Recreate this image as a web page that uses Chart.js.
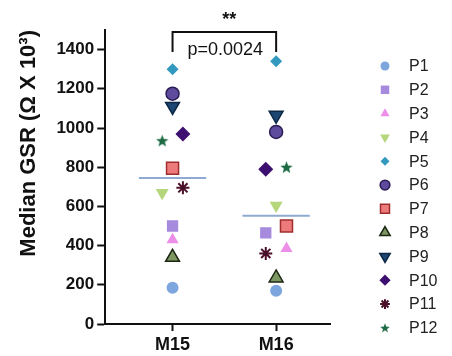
<!DOCTYPE html>
<html>
<head>
<meta charset="utf-8">
<script src="https://cdn.jsdelivr.net/npm/chart.js"></script>
<style>
  html, body { margin: 0; padding: 0; background: #fff; }
  #wrap { width: 452px; height: 356px; }
</style>
</head>
<body>
<div id="wrap"><canvas id="gsrChart" width="452" height="356"></canvas></div>
<script>
// Median GSR per participant for the two conditions
const groups = ["M15", "M16"];
const participants = ["P1", "P2", "P3", "P4", "P5", "P6", "P7", "P8", "P9", "P10", "P11", "P12"];
const m15 = [185, 500, 430, 670, 1300, 1175, 795, 340, 1110, 970, 695, 935];
const m16 = [170, 465, 385, 605, 1340, 980, 500, 235, 1065, 790, 360, 800];
// small horizontal spread so overlapping symbols stay visible
const m15Shift = [0, 0, 0, -0.1, 0, 0, 0, 0, 0, 0.1, 0.1, -0.1];
const m16Shift = [0, -0.1, 0.1, 0, 0, 0, 0.1, 0, 0, -0.1, -0.1, 0.1];
const yTicks = [0, 200, 400, 600, 800, 1000, 1200, 1400];
const pValue = "p=0.0024";
const stars = "**";

// filled five-point star (not a built-in point style)
function makeStar(size, color) {
  const c = document.createElement("canvas");
  c.width = size; c.height = size;
  const g = c.getContext("2d");
  const cx = size / 2, cy = size / 2 + 0.5, R = size / 2, r = R * 0.42;
  g.beginPath();
  for (let i = 0; i < 10; i++) {
    const a = -Math.PI / 2 + i * Math.PI / 5;
    const rr = i % 2 ? r : R;
    g.lineTo(cx + rr * Math.cos(a), cy + rr * Math.sin(a));
  }
  g.closePath();
  g.fillStyle = color;
  g.fill();
  return c;
}

const styles = [
  { shape: "circle", fill: "#7ea6de", edge: null, r: 6 },
  { shape: "rect", fill: "#a68ade", edge: null, r: 8 },
  { shape: "triangle", fill: "#eb8fe8", edge: null, r: 7 },
  { shape: "triangle", rot: 180, fill: "#b5d67a", edge: null, r: 7.5 },
  { shape: "rectRot", fill: "#3399bf", edge: null, r: 6 },
  { shape: "circle", fill: "#5e4b9e", edge: "#2a1d55", r: 6.5 },
  { shape: "rect", fill: "#ee7b7b", edge: "#9e2e2e", r: 8.5 },
  { shape: "triangle", fill: "#7c9762", edge: "#1c2612", r: 8 },
  { shape: "triangle", rot: 180, fill: "#1d4673", edge: "#0d2745", r: 8 },
  { shape: "rectRot", fill: "#3d0f70", edge: null, r: 7.5 },
  { shape: "star", fill: "#4a1029", edge: "#4a1029", r: 6.5 },
  { shape: makeStar(13, "#1d6a45"), fill: "#1d6a45", edge: null, r: 6, legendImg: makeStar(10, "#1d6a45") }
];

function median(arr) {
  const s = arr.slice().sort((a, b) => a - b);
  const m = Math.floor(s.length / 2);
  return s.length % 2 ? s[m] : (s[m - 1] + s[m]) / 2;
}

const pointSets = participants.map((name, i) => {
  const st = styles[i];
  return {
    label: name,
    type: "scatter",
    data: [
      { x: 1 + m15Shift[i], y: m15[i] },
      { x: 2 + m16Shift[i], y: m16[i] }
    ],
    pointStyle: st.shape,
    rotation: st.rot || 0,
    pointRadius: st.r,
    backgroundColor: st.fill,
    borderColor: st.edge || st.fill,
    borderWidth: st.shape === "star" ? 2 : (st.edge ? 1.5 : 0),
    legendImg: st.legendImg
  };
});

const halfWidth = 0.325;
const medianSets = [m15, m16].map((vals, i) => ({
  label: "median " + groups[i],
  type: "line",
  data: [
    { x: i + 1 - halfWidth, y: median(vals) },
    { x: i + 1 + halfWidth, y: median(vals) }
  ],
  borderColor: "#8eaad3",
  borderWidth: 2,
  pointRadius: 0,
  order: 20,
  isMedian: true
}));

const FONT = "'Liberation Sans', Arial, sans-serif";

// significance bracket above the two groups
const bracketPlugin = {
  id: "bracket",
  afterDraw(chart) {
    const ctx = chart.ctx;
    const xs = chart.scales.x;
    const x1 = xs.getPixelForValue(1), x2 = xs.getPixelForValue(2);
    const top = chart.chartArea.top + 2, foot = top + 20;
    ctx.save();
    ctx.strokeStyle = "#111";
    ctx.lineWidth = 2;
    ctx.beginPath();
    ctx.moveTo(x1, foot); ctx.lineTo(x1, top); ctx.lineTo(x2, top); ctx.lineTo(x2, foot);
    ctx.stroke();
    ctx.fillStyle = "#111";
    ctx.textAlign = "center";
    ctx.textBaseline = "alphabetic";
    ctx.font = "18px " + FONT;
    ctx.fillText(pValue, (x1 + x2) / 2 + 1, top + 23);
    ctx.font = "bold 18px " + FONT;
    ctx.fillText(stars, (x1 + x2) / 2 + 5, 25);
    ctx.restore();
  }
};

// participant key drawn on the right
const keyPlugin = {
  id: "key",
  afterDraw(chart) {
    const ctx = chart.ctx;
    const mx = 385, tx = 409, y0 = 66, step = 23.8;
    ctx.save();
    ctx.font = "16px " + FONT;
    ctx.fillStyle = "#222";
    ctx.textAlign = "left";
    ctx.textBaseline = "middle";
    chart.data.datasets.forEach((ds) => {
      if (ds.isMedian) return;
      const i = participants.indexOf(ds.label);
      const y = y0 + i * step;
      if (ds.legendImg) {
        const s = ds.legendImg.width;
        ctx.drawImage(ds.legendImg, mx - s / 2, y - s / 2, s, s);
      } else {
        ctx.fillStyle = ds.backgroundColor;
        ctx.strokeStyle = ds.borderColor;
        ctx.lineWidth = ds.borderWidth;
        Chart.helpers.drawPoint(ctx, {
          pointStyle: ds.pointStyle,
          rotation: ds.rotation,
          radius: ds.pointRadius * 0.75,
          borderWidth: ds.borderWidth
        }, mx, y);
      }
      ctx.fillStyle = "#222";
      ctx.fillText(ds.label, tx, y + 1);
    });
    ctx.restore();
  }
};

new Chart(document.getElementById("gsrChart").getContext("2d"), {
  type: "scatter",
  data: { datasets: medianSets.concat(pointSets) },
  options: {
    responsive: false,
    devicePixelRatio: 1,
    animation: false,
    events: [],
    layout: { padding: { top: 30, right: 122, bottom: -3, left: 16 } },
    plugins: { legend: { display: false }, tooltip: { enabled: false } },
    scales: {
      x: {
        type: "linear",
        min: 0.35,
        max: 2.52,
        afterBuildTicks: (axis) => { axis.ticks = groups.map((g, i) => ({ value: i + 1 })); },
        ticks: {
          callback: (v) => groups[v - 1] || "",
          color: "#111",
          font: { family: FONT, size: 18, weight: "bold", lineHeight: 1 },
          padding: 5,
          maxRotation: 0
        },
        grid: { drawOnChartArea: false, tickLength: 7, tickColor: "#111", tickWidth: 2 },
        border: { color: "#111", width: 2 }
      },
      y: {
        min: 0,
        max: 1500,
        afterBuildTicks: (axis) => { axis.ticks = yTicks.map((v) => ({ value: v })); },
        ticks: {
          callback: (v) => String(v),
          color: "#111",
          font: { family: FONT, size: 17, weight: "bold" },
          padding: 3
        },
        grid: { drawOnChartArea: false, tickLength: 8, tickColor: "#111", tickWidth: 2 },
        border: { color: "#111", width: 2 },
        title: {
          display: true,
          text: "Median GSR (Ω X 10³)",
          align: "end",
          color: "#111",
          font: { family: FONT, size: 22, weight: "bold", lineHeight: 1.2 },
          padding: { top: 0, bottom: 11 }
        }
      }
    }
  },
  plugins: [bracketPlugin, keyPlugin]
});
</script>
</body>
</html>
